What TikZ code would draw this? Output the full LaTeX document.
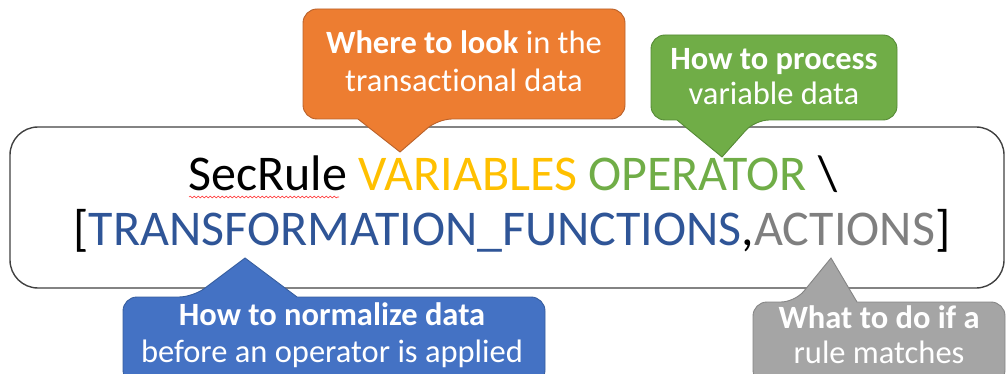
\documentclass[tikz,border=0pt]{standalone}
\usepackage{fontspec}
\setmainfont{Carlito}[Ligatures=NoCommon]
\usetikzlibrary{decorations.pathmorphing}
\definecolor{boxline}{HTML}{404040}
\definecolor{orfill}{HTML}{ED7D31}
\definecolor{ordraw}{HTML}{B9612A}
\definecolor{grfill}{HTML}{70AD47}
\definecolor{grdraw}{HTML}{558A35}
\definecolor{blfill}{HTML}{4472C4}
\definecolor{bldraw}{HTML}{365D9E}
\definecolor{gyfill}{HTML}{A5A5A5}
\definecolor{gydraw}{HTML}{858585}
\definecolor{varcol}{HTML}{FFC000}
\definecolor{opcol}{HTML}{70AD47}
\definecolor{trcol}{HTML}{2F5597}
\definecolor{accol}{HTML}{7F7F7F}
\begin{document}
\begin{tikzpicture}[x=1pt,y=-1pt,
  mainbox/.style={draw=boxline,line width=1.4pt,rounded corners=28pt},
  callout/.style={line width=0.9pt},
  ctext/.style={text=white,font=\fontsize{32.5}{38}\selectfont,anchor=base,inner sep=0pt},
  mtext/.style={font=\fontsize{50}{58}\selectfont,anchor=base,inner sep=0pt},
  squiggle/.style={draw=red!80!white,line width=0.6pt,decorate,decoration={snake,amplitude=0.9pt,segment length=4pt}}]
\useasboundingbox (0,0) rectangle (1006,374);
\clip (0,0) rectangle (1006,374);
% main rule box
\draw[mainbox] (10,127) rectangle (1004,288);
\node[mtext] (line1) at (513,190) {SecRule \textcolor{varcol}{VARIABLES} \textcolor{opcol}{OPERATOR} \textbackslash};
\node[mtext] (line2) at (512,245) {[\textcolor{trcol}{TRANSFORMATION\_FUNCTIONS},\textcolor{accol}{ACTIONS}]};
\draw[squiggle] ([xshift=1pt,yshift=-7pt]line1.base west) -- ++(150,0);
% orange callout
\path[callout,fill=orfill,draw=ordraw] (464,9) [rounded corners=14pt] -- (625,9) -- (625,119) -- (438,119) [sharp corners] -- (400,152) -- (358,119) [rounded corners=14pt] -- (303,119) -- (303,9) -- cycle;
\node[ctext] (o1) at (464,54) {\textbf{Where to look} in the};
\node[ctext] (o2) at (464,92) {transactional data};
% green callout
\path[callout,fill=grfill,draw=grdraw] (774,35) [rounded corners=14pt] -- (897,35) -- (897,120) -- (755,120) [sharp corners] -- (722,157) -- (677,120) [rounded corners=14pt] -- (651,120) -- (651,35) -- cycle;
\node[ctext] (g1) at (774,70) {\textbf{How to process}};
\node[ctext] (g2) at (774,105) {variable data};
% blue callout
\path[callout,fill=blfill,draw=bldraw] (334,384) [rounded corners=14pt] -- (123,384) -- (123,297) -- (193,297) [sharp corners] -- (245,258) -- (297,297) [rounded corners=14pt] -- (545,297) -- (545,384) -- cycle;
\node[ctext] (b1) at (332,325) {\textbf{How to normalize data}};
\node[ctext] (b2) at (332,362) {before an operator is applied};
% gray callout
\path[callout,fill=gyfill,draw=gydraw] (879,384) [rounded corners=14pt] -- (753,384) -- (753,302) -- (795,302) [sharp corners] -- (831,258) -- (857,302) [rounded corners=14pt] -- (1005,302) -- (1005,384) -- cycle;
\node[ctext] (y1) at (879,328) {\textbf{What to do if a}};
\node[ctext] (y2) at (879,363) {rule matches};
\end{tikzpicture}
\end{document}
